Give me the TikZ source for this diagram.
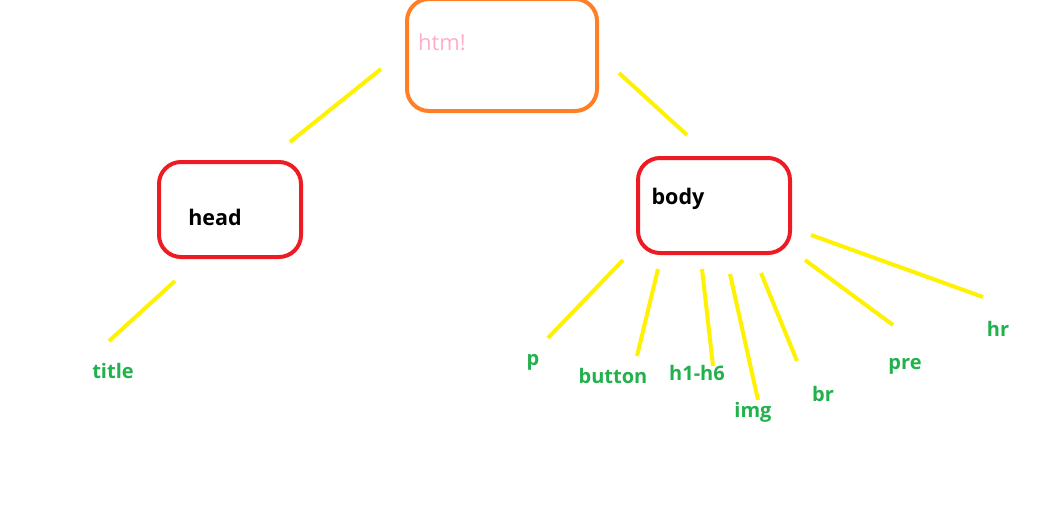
\documentclass[tikz,border=0pt]{standalone}
\usepackage{fontspec}
\setmainfont{Open Sans}
\usepackage{tikz}
\usetikzlibrary{positioning}

\definecolor{paintorange}{HTML}{FF7F27}
\definecolor{paintred}{HTML}{ED1C24}
\definecolor{paintyellow}{HTML}{FFF200}
\definecolor{paintgreen}{HTML}{22B14C}
\definecolor{paintpink}{HTML}{FFAEC9}

\tikzset{
  tagbox/.style={draw,line width=4pt,rounded corners=22pt,inner sep=0pt},
  tagname/.style={font=\fontsize{21.5}{25}\selectfont\bfseries,text=black},
  leaf/.style={font=\fontsize{20}{24}\selectfont\bfseries,text=paintgreen},
  branch/.style={draw,paintyellow,line width=4pt}
}

\begin{document}
\begin{tikzpicture}[x=1pt,y=-1pt]
\useasboundingbox[fill=white] (0,0) rectangle (1056,525);

% the three element boxes
\node[tagbox,paintorange,minimum width=190pt,minimum height=112pt] (html) at (502,55) {};
\node[tagbox,paintred,minimum width=142pt,minimum height=95pt] (head) at (230,209.5) {};
\node[tagbox,paintred,minimum width=152pt,minimum height=95pt] (body) at (714,205.5) {};

\node[font=\fontsize{22}{26}\selectfont,text=paintpink] (htmltext) at (442,42) {htm!};
\node[tagname] (headtext) at (215,217) {head};
\node[tagname] (bodytext) at (678,199) {body};

% child elements
\foreach \pos/\name/\disp in {{(113,371)/title/title}, {(533,362)/p/p}, {(613,376)/button/button}, {(697,373)/hsix/h1-h6}, {(753,412)/img/img}, {(823,394)/br/br}, {(905,366)/pre/pre}, {(998,329)/hr/hr}}
\node[leaf] (\name) at \pos {\disp};

% ends of the strokes
\foreach \pos/\name in {{(381,69)/ha}, {(290,142)/hb}, {(619,73)/ba}, {(687,135)/bb}, {(175,281)/ta}, {(109,341)/tb}, {(623,260)/pa}, {(548,338)/pb}, {(658,269)/ua}, {(637,356)/ub}, {(702,269)/sa}, {(713,366)/sb}, {(730,274)/ia}, {(758,400)/ib}, {(761,273)/ra}, {(797,361)/rb}, {(805,260)/ea}, {(893,325)/eb}, {(811,235)/ka}, {(983,297)/kb}}
\path \pos coordinate (\name);

% Connect elements with strokes
\foreach \source/ \dest in {ha/hb, ba/bb, ta/tb, pa/pb, ua/ub, sa/sb, ia/ib, ra/rb, ea/eb, ka/kb}
\path[branch] (\source) -- (\dest);

\end{tikzpicture}
\end{document}
